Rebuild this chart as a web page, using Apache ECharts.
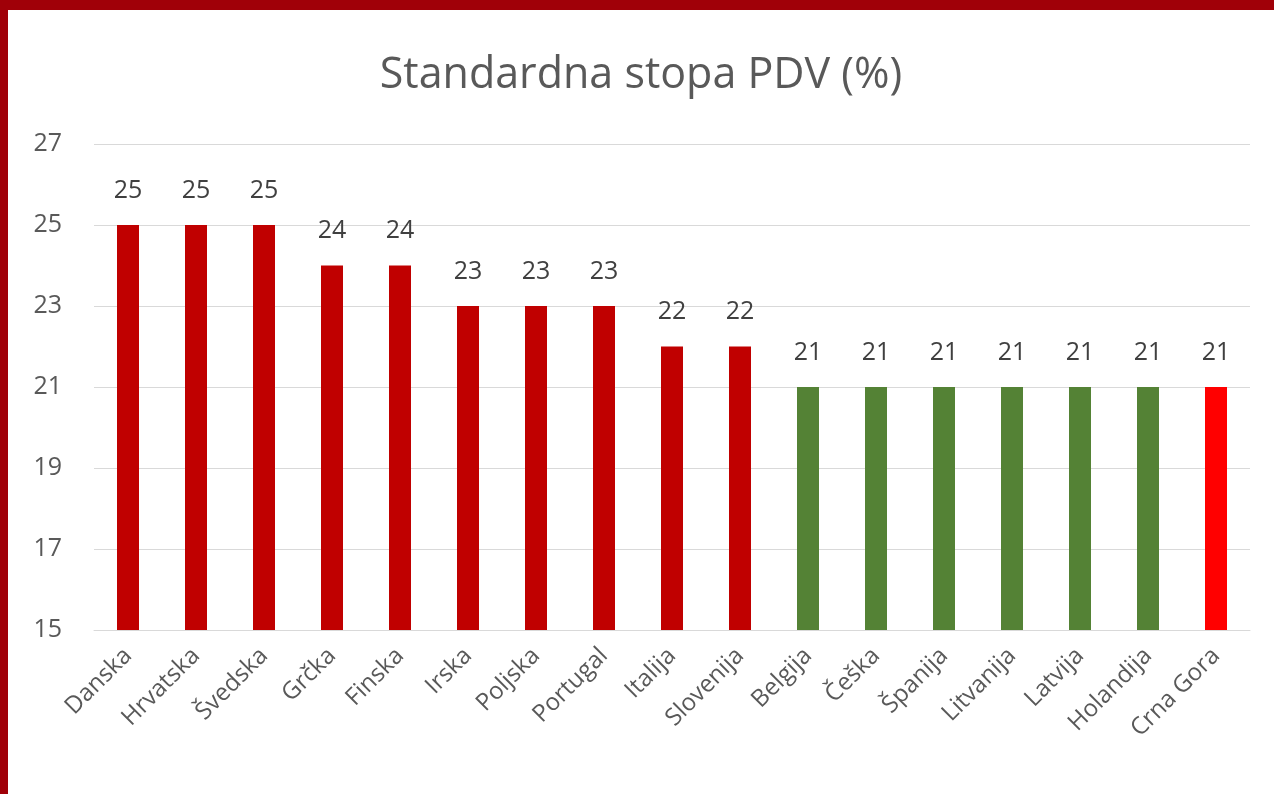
<!DOCTYPE html>
<html>
<head>
<meta charset="utf-8">
<script src="https://cdn.jsdelivr.net/npm/echarts@6/dist/echarts.min.js"></script>
<style>
  html, body { margin: 0; padding: 0; background: #fff; }
  #frame { position: absolute; left: 0; top: 0; width: 1274px; height: 794px; background: #a00008; }
  #chart { position: absolute; left: 8px; top: 10px; width: 1266px; height: 784px; background: #fff; }
</style>
</head>
<body>
<div id="frame"></div>
<div id="chart"></div>
<script>
const countries = ['Danska', 'Hrvatska', 'Švedska', 'Grčka', 'Finska', 'Irska', 'Poljska', 'Portugal', 'Italija', 'Slovenija', 'Belgija', 'Češka', 'Španija', 'Litvanija', 'Latvija', 'Holandija', 'Crna Gora'];
const rates = [25, 25, 25, 24, 24, 23, 23, 23, 22, 22, 21, 21, 21, 21, 21, 21, 21];
const barColors = ['#c00000', '#c00000', '#c00000', '#c00000', '#c00000', '#c00000', '#c00000', '#c00000', '#c00000', '#c00000',
  '#548235', '#548235', '#548235', '#548235', '#548235', '#548235', '#ff0000'];

const chart = echarts.init(document.getElementById('chart'));
const font = 'Open Sans';

const option = {
  animation: false,
  title: {
    text: 'Standardna stopa PDV (%)',
    left: 'center',
    top: 39,
    textStyle: { fontFamily: font, fontSize: 43, fontWeight: 'normal', color: '#595959' }
  },
  grid: { left: 86, right: 24, top: 134, bottom: 164 },
  xAxis: {
    type: 'category',
    data: countries,
    axisLine: { lineStyle: { color: '#d9d9d9', width: 1 } },
    axisTick: { show: false },
    axisLabel: { rotate: 45, interval: 0, margin: 22, fontFamily: font, fontSize: 24, color: '#595959' }
  },
  yAxis: {
    type: 'value',
    min: 15,
    max: 27,
    interval: 2,
    axisLine: { show: false },
    axisTick: { show: false },
    splitLine: { lineStyle: { color: '#d9d9d9', width: 1 } },
    axisLabel: { margin: 32, fontFamily: font, fontSize: 25, color: '#595959' }
  },
  series: [{
    type: 'bar',
    barWidth: 22,
    data: rates.map((v, i) => ({ value: v, itemStyle: { color: barColors[i] } })),
    label: { show: true, position: 'top', distance: 22, fontFamily: font, fontSize: 25, color: '#404040' }
  }]
};

chart.setOption(option);
</script>
</body>
</html>
